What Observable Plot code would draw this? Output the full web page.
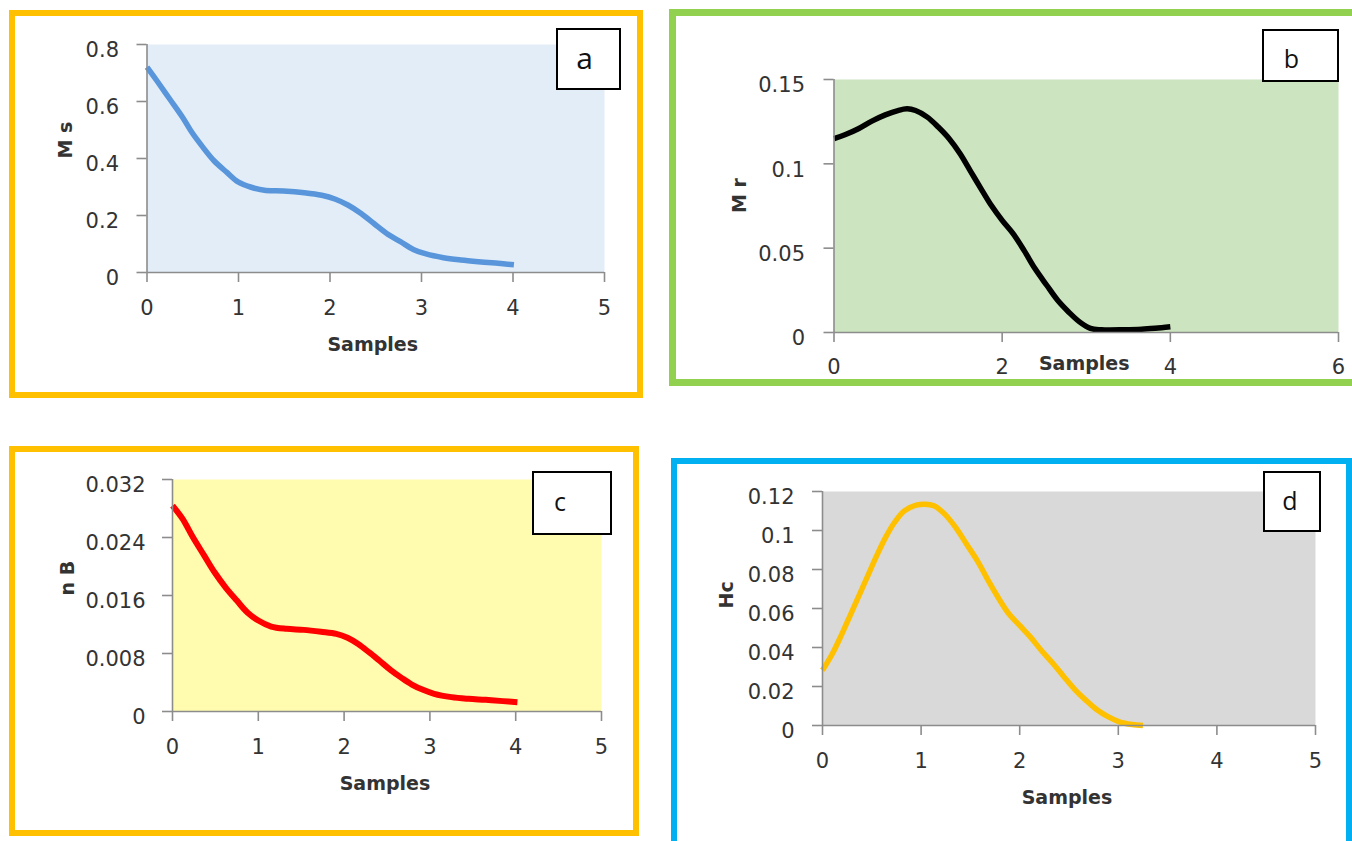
<!DOCTYPE html>
<html>
<head>
<meta charset="utf-8">
<script src="https://cdn.jsdelivr.net/npm/d3@7"></script>
<script src="https://cdn.jsdelivr.net/npm/@observablehq/plot@0.6"></script>
<style>
  html, body { margin: 0; padding: 0; background: #fff; }
  body { width: 1352px; height: 841px; position: relative; overflow: hidden; font-family: "DejaVu Sans", sans-serif; }
  .border { position: absolute; box-sizing: border-box; }
  .tag { position: absolute; box-sizing: border-box; border: 2px solid #000; background: #fff;
         font-family: "Open Sans", sans-serif; color: #111; display: flex; align-items: center; justify-content: center; }
  .svgbox { position: absolute; }
  .svgbox svg { overflow: visible; max-width: none !important; }
</style>
</head>
<body>
<div id="root"></div>
<script>
// ---------- data ----------
const samplesA = [0, 0.11, 0.25, 0.39, 0.49, 0.61, 0.73, 0.87, 1.0, 1.13, 1.30, 1.49, 1.72, 1.91, 2.06, 2.20, 2.34, 2.48, 2.62, 2.77, 2.91, 3.05, 3.24, 3.43, 3.62, 3.81, 4.01];
const msValues = [0.721, 0.672, 0.608, 0.544, 0.492, 0.44, 0.393, 0.352, 0.317, 0.30, 0.288, 0.286, 0.280, 0.271, 0.257, 0.236, 0.207, 0.172, 0.137, 0.108, 0.081, 0.065, 0.052, 0.044, 0.038, 0.033, 0.027];

const samplesB = [0, 0.13, 0.29, 0.45, 0.61, 0.76, 0.87, 0.97, 1.11, 1.24, 1.37, 1.50, 1.63, 1.76, 1.87, 2.0, 2.13, 2.26, 2.39, 2.53, 2.66, 2.79, 2.92, 3.05, 3.18, 3.45, 3.66, 3.82, 4.0];
const mrValues = [0.1149, 0.1172, 0.1208, 0.1253, 0.129, 0.1316, 0.1326, 0.1316, 0.1277, 0.1218, 0.1149, 0.106, 0.0951, 0.0843, 0.0754, 0.0665, 0.0586, 0.0487, 0.0379, 0.028, 0.0191, 0.0122, 0.0063, 0.0024, 0.0016, 0.0016, 0.0019, 0.0025, 0.0034];

const samplesC = [0, 0.116, 0.24, 0.37, 0.49, 0.62, 0.75, 0.87, 1.0, 1.15, 1.33, 1.53, 1.73, 1.91, 2.04, 2.16, 2.29, 2.41, 2.54, 2.67, 2.79, 2.92, 3.05, 3.25, 3.45, 3.65, 3.85, 4.02];
const nbValues = [0.0284, 0.0266, 0.0240, 0.0215, 0.0192, 0.0171, 0.0153, 0.0137, 0.01255, 0.01172, 0.0114, 0.01126, 0.0110, 0.01071, 0.01016, 0.00933, 0.00818, 0.00703, 0.00575, 0.00464, 0.00372, 0.00299, 0.00244, 0.00198, 0.00175, 0.00161, 0.00143, 0.00129];

const samplesD = [0, 0.1, 0.19, 0.28, 0.37, 0.46, 0.55, 0.64, 0.73, 0.83, 0.95, 1.04, 1.13, 1.24, 1.35, 1.46, 1.58, 1.69, 1.80, 1.89, 2.0, 2.11, 2.22, 2.34, 2.45, 2.56, 2.67, 2.78, 2.90, 3.01, 3.14, 3.25];
const hcValues = [0.0283, 0.0368, 0.0462, 0.0564, 0.0666, 0.0769, 0.0871, 0.0965, 0.1041, 0.1101, 0.113, 0.1135, 0.1127, 0.1084, 0.1016, 0.0931, 0.0837, 0.0735, 0.0641, 0.0573, 0.0513, 0.0453, 0.0385, 0.0317, 0.0249, 0.0184, 0.013, 0.0082, 0.0044, 0.0019, 0.0005, 0.0];

const xTicksA = [0, 1, 2, 3, 4, 5];
const yTicksA = [0, 0.2, 0.4, 0.6, 0.8];
const xTicksB = [0, 2, 4, 6];
const yTicksB = [0, 0.05, 0.1, 0.15];
const xTicksC = [0, 1, 2, 3, 4, 5];
const yTicksC = [0, 0.008, 0.016, 0.024, 0.032];
const xTicksD = [0, 1, 2, 3, 4, 5];
const yTicksD = [0, 0.02, 0.04, 0.06, 0.08, 0.1, 0.12];

const xTitle = "Samples";
const yTitles = ["M s", "M r", "n B", "Hc"];
const panelTags = ["a", "b", "c", "d"];

// ---------- layout ----------
const root = document.getElementById("root");
const AXIS = "#8c8c8c";
const TXT = "#333333";

function addBorder(x, y, w, h, color, bw) {
  const d = document.createElement("div");
  d.className = "border";
  Object.assign(d.style, {left: x + "px", top: y + "px", width: w + "px", height: h + "px", border: bw + "px solid " + color});
  root.appendChild(d);
}
function addTag(x, y, w, h, text, fs, dx, dy) {
  const d = document.createElement("div");
  d.className = "tag";
  Object.assign(d.style, {left: x + "px", top: y + "px", width: w + "px", height: h + "px", fontSize: fs + "px"});
  const s = document.createElement("span");
  s.textContent = text;
  s.style.position = "relative";
  s.style.left = dx + "px";
  s.style.top = dy + "px";
  d.appendChild(s);
  root.appendChild(d);
}

function panel(cfg) {
  const {sx, sy, sw, sh, fx0, fx1, fy0, fy1} = cfg;
  const data = cfg.xs.map((x, i) => ({x, y: cfg.ys[i]}));
  const chart = Plot.plot({
    width: sw, height: sh,
    marginLeft: fx0 - sx, marginRight: sx + sw - fx1,
    marginTop: fy0 - sy, marginBottom: sy + sh - fy1,
    x: {domain: cfg.xDomain},
    y: {domain: cfg.yDomain},
    style: {fontFamily: "DejaVu Sans, sans-serif", fontSize: "21px", background: "transparent", color: TXT, overflow: "visible"},
    marks: [
      Plot.frame({fill: cfg.bg, stroke: null}),
      Plot.line(data, {x: "x", y: "y", stroke: cfg.color, strokeWidth: cfg.lw, curve: "catmull-rom", strokeLinecap: "butt"}),
      Plot.ruleX([cfg.xDomain[0]], {stroke: AXIS, strokeWidth: 1.6}),
      Plot.ruleY([cfg.yDomain[0]], {stroke: AXIS, strokeWidth: 1.6}),
      Plot.axisX({ticks: cfg.xTicks, tickSize: 10, tickPadding: cfg.xPad, stroke: AXIS, strokeWidth: 1.6, fill: TXT, label: null, tickFormat: d => String(d)}),
      // y tick marks (no text)
      Plot.axisY({ticks: cfg.yTicks, tickSize: 10, stroke: AXIS, strokeWidth: 1.6, label: null, tickFormat: () => ""}),
      // y tick labels, nudged down like the original
      Plot.axisY({ticks: cfg.yTicks, tickSize: 0, tickPadding: 10 + cfg.yPad, fill: TXT, label: null, dy: 6, tickFormat: d => String(+d.toFixed(4))}),
      Plot.text([cfg.xTitle], {frameAnchor: "bottom", dx: cfg.xtDx, dy: cfg.xtDy, lineAnchor: "middle", fontWeight: "bold", fontSize: 19, fill: TXT}),
      Plot.text([cfg.yTitle], {frameAnchor: "left", rotate: -90, dx: cfg.ytDx, dy: cfg.ytDy, lineAnchor: "middle", fontWeight: "bold", fontSize: 19, fill: TXT})
    ]
  });
  const box = document.createElement("div");
  box.className = "svgbox";
  box.style.left = sx + "px";
  box.style.top = sy + "px";
  box.style.width = sw + "px";
  box.style.height = sh + "px";
  box.appendChild(chart);
  root.appendChild(box);
}

// borders
addBorder(9, 10, 634, 388, "#FFC000", 6);
addBorder(669, 9, 700, 377, "#92D050", 7);
addBorder(9, 446, 630, 390, "#FFC000", 6);
addBorder(671, 458, 681, 400, "#00B0F0", 6);

// panel a
panel({sx: 16, sy: 17, sw: 620, sh: 374, fx0: 146.5, fx1: 604, fy0: 44, fy1: 272,
  xs: samplesA, ys: msValues, xDomain: [0, 5], yDomain: [0, 0.8], xTicks: xTicksA, yTicks: yTicksA,
  bg: "#E2EDF8", color: "#5895DA", lw: 5.5, xPad: 18, yPad: 18,
  xTitle: xTitle, yTitle: yTitles[0], xtDx: -3, xtDy: 72, ytDx: -81, ytDy: 0});
// panel b
panel({sx: 677, sy: 17, sw: 675, sh: 362, fx0: 833.5, fx1: 1338, fy0: 79, fy1: 332,
  xs: samplesB, ys: mrValues, xDomain: [0, 6], yDomain: [0, 0.15], xTicks: xTicksB, yTicks: yTicksB,
  bg: "#CCE4BF", color: "#000000", lw: 5.5, xPad: 17, yPad: 19,
  xTitle: xTitle, yTitle: yTitles[1], xtDx: -2, xtDy: 31, ytDx: -94, ytDy: 7});
// panel c
panel({sx: 16, sy: 453, sw: 617, sh: 375, fx0: 172, fx1: 601, fy0: 479, fy1: 711,
  xs: samplesC, ys: nbValues, xDomain: [0, 5], yDomain: [0, 0.032], xTicks: xTicksC, yTicks: yTicksC,
  bg: "#FFFCAF", color: "#FF0000", lw: 6, xPad: 18, yPad: 17,
  xTitle: xTitle, yTitle: yTitles[2], xtDx: -2, xtDy: 72, ytDx: -105, ytDy: 0});
// panel d
panel({sx: 677, sy: 464, sw: 669, sh: 377, fx0: 822, fx1: 1315, fy0: 491, fy1: 725,
  xs: samplesD, ys: hcValues, xDomain: [0, 5], yDomain: [0, 0.12], xTicks: xTicksD, yTicks: yTicksD,
  bg: "#D9D9D9", color: "#FFC000", lw: 5.5, xPad: 18, yPad: 18,
  xTitle: xTitle, yTitle: yTitles[3], xtDx: -2, xtDy: 72, ytDx: -96, ytDy: 0});

// tags
addTag(556, 28, 65, 62, panelTags[0], 30, -4, -2);
addTag(1262, 29, 77, 53, panelTags[1], 25, -9, 2);
addTag(532, 471, 80, 64, panelTags[2], 25, -12, -2);
addTag(1263, 471, 58, 61, panelTags[3], 25, -2, -2);
</script>
</body>
</html>
